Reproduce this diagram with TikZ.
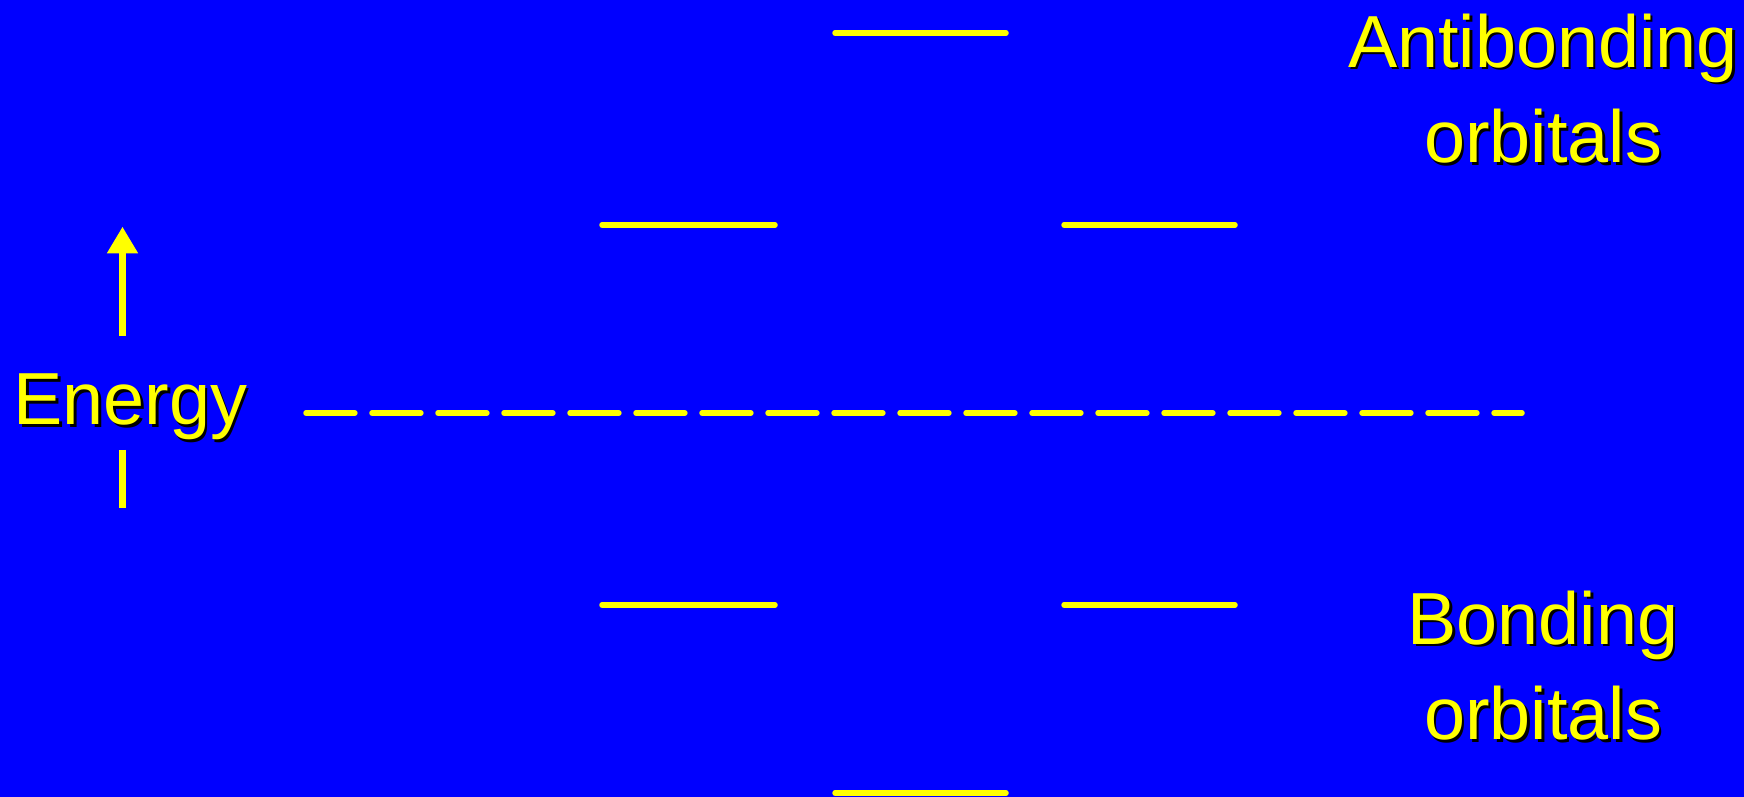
\documentclass[tikz,border=0pt]{standalone}
\usepackage{fontspec}
\setmainfont{Liberation Sans}
\usetikzlibrary{arrows.meta}

\definecolor{slideblue}{RGB}{0,0,255}
\definecolor{slideyellow}{RGB}{255,255,0}

\begin{document}
\begin{tikzpicture}[
  level/.style={draw=slideyellow, line width=0.055cm, line cap=round},
  divide/.style={level, dash pattern=on 0.489cm off 0.171cm},
  axis/.style={draw=slideyellow, line width=0.064cm},
  txt/.style={text=slideyellow, inner sep=0pt, align=center, anchor=base, font=\fontsize{21pt}{27.2pt}\selectfont},
  txtshadow/.style={txt, text=black, xshift=0.025cm, yshift=-0.025cm}]
\fill[slideblue] (0,0) rectangle (17.44,7.97);
\useasboundingbox (0,0) rectangle (17.44,7.97);
\draw[level] (8.35,7.64) -- (10.06,7.64);
\draw[level] (6.02,5.72) -- (7.75,5.72);
\draw[level] (10.64,5.72) -- (12.35,5.72);
\draw[divide] (3.06,3.84) -- (15.22,3.84);
\draw[level] (6.02,1.92) -- (7.75,1.92);
\draw[level] (10.64,1.92) -- (12.35,1.92);
\draw[level] (8.35,0.04) -- (10.06,0.04);
\node[txtshadow] at (1.305,3.72) {Energy};
\node[txt] (energy) at (1.305,3.72) {Energy};
\coordinate (eup1) at (1.225,4.613);
\coordinate (eup2) at (1.225,5.703);
\coordinate (edown1) at (1.225,3.47);
\coordinate (edown2) at (1.225,2.89);
\draw[axis, -{Triangle[length=0.266cm, width=0.294cm]}] (eup1) -- (eup2);
\draw[axis] (edown1) -- (edown2);
\node[txtshadow] at (15.43,6.34) {Antibonding\\orbitals};
\node[txt] (anti) at (15.43,6.34) {Antibonding\\orbitals};
\node[txtshadow] at (15.43,0.57) {Bonding\\orbitals};
\node[txt] (bond) at (15.43,0.57) {Bonding\\orbitals};
\end{tikzpicture}
\end{document}
